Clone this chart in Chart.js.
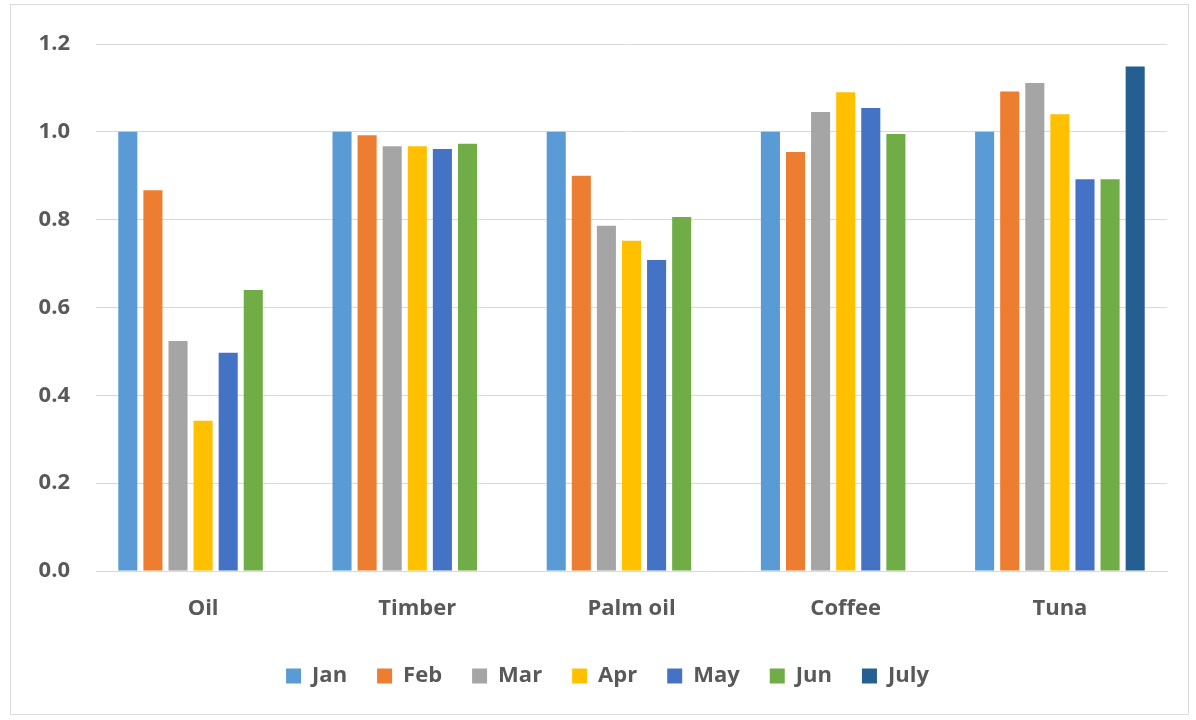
<!DOCTYPE html>
<html>
<head>
<meta charset="utf-8">
<script src="https://cdn.jsdelivr.net/npm/chart.js@4/dist/chart.umd.min.js"></script>
<style>
  html, body { margin: 0; padding: 0; background: #fff; }
  #wrap { position: relative; width: 1196px; height: 720px; }
  #frame { position: absolute; left: 10px; top: 4px; width: 1179px; height: 711px; border: 1px solid #dcdcdc; box-sizing: border-box; }
  canvas { position: absolute; left: 0; top: 0; }
</style>
</head>
<body>
<div id="wrap">
  <div id="frame"></div>
  <canvas id="myChart" width="1196" height="720"></canvas>
</div>
<script>
const categories = ['Oil', 'Timber', 'Palm oil', 'Coffee', 'Tuna']
const months = ['Jan', 'Feb', 'Mar', 'Apr', 'May', 'Jun', 'July']
const janVals = [1.0, 1.0, 1.0, 1.0, 1.0]
const febVals = [0.867, 0.992, 0.900, 0.954, 1.092]
const marVals = [0.524, 0.967, 0.786, 1.045, 1.111]
const aprVals = [0.342, 0.967, 0.752, 1.090, 1.040]
const mayVals = [0.497, 0.961, 0.708, 1.054, 0.892]
const junVals = [0.640, 0.973, 0.806, 0.995, 0.892]
const julyVals = [null, null, null, null, 1.149]
const yTicks = [0, 0.2, 0.4, 0.6, 0.8, 1.0, 1.2]

const colores = ['#5B9BD5', '#ED7D31', '#A5A5A5', '#FFC000', '#4472C4', '#70AD47', '#255E91']
const series = [janVals, febVals, marVals, aprVals, mayVals, junVals, julyVals]

const textColor = '#595959'
const fuente = { family: "'Open Sans', 'Liberation Sans', sans-serif", size: 22, weight: 'bold' }

const datos = {
  labels: categories,
  datasets: series.map((vals, i) => ({
    label: months[i],
    data: vals,
    backgroundColor: colores[i],
    borderWidth: 0,
    categoryPercentage: 0.82,
    barPercentage: 0.76
  }))
}

// move the legend a bit to the right, like the original
const moverLeyenda = {
  id: 'moverLeyenda',
  afterLayout(chart) {
    if (chart.legend) chart.legend.left += 48
  }
}

const config = {
  type: 'bar',
  data: datos,
  plugins: [moverLeyenda],
  options: {
    responsive: false,
    animation: false,
    layout: { padding: { top: 44, left: 0, right: 29, bottom: 23 } },
    plugins: {
      legend: {
        position: 'bottom',
        labels: {
          color: textColor,
          font: fuente,
          boxWidth: 15,
          boxHeight: 15,
          padding: 30
        }
      },
      tooltip: { enabled: false }
    },
    scales: {
      x: {
        grid: { display: false, drawTicks: false },
        border: { display: true, color: '#d9d9d9' },
        ticks: { color: textColor, font: fuente, padding: 25 },
        afterFit: (scale) => { scale.height = 64 }
      },
      y: {
        min: 0,
        max: 1.2,
        afterBuildTicks: (scale) => { scale.ticks = yTicks.map(v => ({ value: v })) },
        grid: { color: '#d9d9d9', drawTicks: false },
        border: { display: false },
        ticks: {
          color: textColor,
          font: fuente,
          padding: 26,
          callback: (v) => Number(v).toFixed(1)
        },
        afterFit: (scale) => { scale.width = 96 }
      }
    }
  }
}

const $ctx = document.getElementById('myChart').getContext('2d')
var mychar = new Chart($ctx, config)
</script>
</body>
</html>
